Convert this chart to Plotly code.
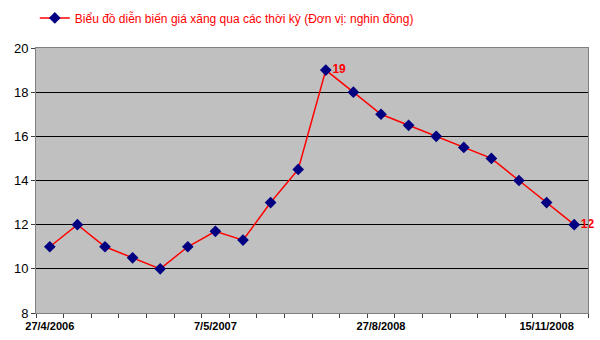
import plotly.graph_objects as go

# Data
prices = [11, 12, 11, 10.5, 10, 11, 11.7, 11.3, 13, 14.5, 19, 18, 17, 16.5, 16, 15.5, 15, 14, 13, 12]
point_labels = ["", "", "", "", "", "", "", "", "", "", "19", "", "", "", "", "", "", "", "", "12"]
tick_positions = [0, 6, 12, 18]
tick_labels = ["27/4/2006", "7/5/2007", "27/8/2008", "15/11/2008"]
series_name = "Biểu đồ diễn biến giá xăng qua các thời kỳ (Đơn vị: nghin đồng)"

x_idx = list(range(len(prices)))

fig = go.Figure()
fig.add_trace(go.Scatter(
    x=x_idx, y=prices, name=series_name,
    mode="lines+markers+text",
    text=point_labels, textposition="middle right",
    textfont=dict(color="#FF0000", size=12, family="Liberation Sans, Arial", weight="bold"),
    line=dict(color="#FF0000", width=1.5),
    marker=dict(symbol="diamond", size=9, color="#000080"),
    cliponaxis=False,
))

fig.update_layout(
    width=600, height=340,
    margin=dict(l=36, r=12, t=48, b=27, autoexpand=False),
    paper_bgcolor="white",
    plot_bgcolor="#C0C0C0",
    font=dict(family="Liberation Sans, Arial", color="black"),
    showlegend=True,
    legend=dict(
        x=0.058, y=0.99, xref="container", yref="container",
        xanchor="left", yanchor="top",
        itemwidth=30,
        font=dict(color="#FF0000", size=12),
        bgcolor="rgba(0,0,0,0)",
    ),
    xaxis=dict(
        range=[-0.5, len(prices) - 0.5],
        tickmode="array", tickvals=tick_positions, ticktext=tick_labels,
        ticks="", showgrid=False, zeroline=False,
        tickfont=dict(size=11, weight="bold"),
        tickangle=0,
        showline=True, linecolor="#808080", linewidth=1, mirror=True,
        minor=dict(ticks="outside", tickmode="linear", tick0=-0.5, dtick=1,
                   ticklen=4, tickcolor="#404040", showgrid=False),
        ticklabelstandoff=3,
    ),
    yaxis=dict(
        range=[8, 20], dtick=2, tick0=8,
        ticks="outside", ticklen=4, tickcolor="#404040",
        showgrid=True, gridcolor="#000000", gridwidth=1,
        zeroline=False,
        tickfont=dict(size=13),
        showline=True, linecolor="#808080", linewidth=1, mirror=True,
    ),
)

fig.write_html("out.html")
